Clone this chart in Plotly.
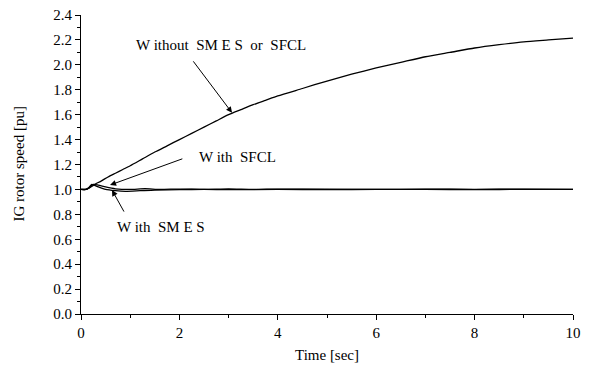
import plotly.graph_objects as go

# Time axis for the uncompensated case
t_without = [0, 0.1, 0.2, 0.3, 0.4, 0.55, 0.7, 0.85, 1.0, 1.25, 1.5, 1.75, 2.0, 2.25,
             2.5, 2.75, 3.0, 3.25, 3.5, 3.75, 4.0, 4.5, 5.0, 5.5, 6.0, 6.5, 7.0,
             7.5, 8.0, 8.5, 9.0, 9.5, 10.0]
v_without = [1.0, 1.0, 1.02, 1.045, 1.065, 1.10, 1.13, 1.16, 1.19, 1.245, 1.30, 1.35,
             1.40, 1.45, 1.50, 1.55, 1.60, 1.64, 1.68, 1.715, 1.75, 1.81, 1.87,
             1.925, 1.975, 2.02, 2.065, 2.10, 2.135, 2.162, 2.185, 2.20, 2.215]

t_sfcl = [0, 0.1, 0.15, 0.25, 0.35, 0.5, 0.7, 1.0, 1.3, 1.6, 2.0, 2.5, 3.0, 3.5,
          4.0, 5.0, 6.0, 7.0, 8.0, 9.0, 10.0]
v_sfcl = [1.0, 1.0, 1.01, 1.04, 1.035, 1.02, 1.005, 1.0, 1.006, 1.0, 1.003, 1.0,
          1.004, 1.0, 1.003, 1.002, 1.0, 1.002, 1.001, 1.002, 1.001]

t_smes = [0, 0.1, 0.15, 0.22, 0.35, 0.5, 0.7, 0.9, 1.2, 1.5, 2.0, 2.5, 3.0, 4.0,
          5.0, 6.0, 7.0, 8.0, 9.0, 10.0]
v_smes = [1.0, 1.0, 1.01, 1.04, 1.02, 1.0, 0.99, 0.985, 0.99, 0.995, 0.998, 1.0,
          0.998, 1.0, 0.999, 1.0, 1.0, 0.999, 1.0, 1.0]

x_ticks = [0, 2, 4, 6, 8, 10]
y_ticks = [0.0, 0.2, 0.4, 0.6, 0.8, 1.0, 1.2, 1.4, 1.6, 1.8, 2.0, 2.2, 2.4]

FONT = "Liberation Serif, Times New Roman, serif"

fig = go.Figure()
for tt, vv in [(t_without, v_without), (t_sfcl, v_sfcl), (t_smes, v_smes)]:
    fig.add_trace(go.Scatter(x=tt, y=vv, mode="lines",
                             line=dict(color="black", width=1.3, shape="spline", smoothing=0.6),
                             showlegend=False, hoverinfo="skip"))

def arrow(tx, ty, hx, hy):
    fig.add_annotation(x=hx, y=hy, ax=tx, ay=ty, xref="x", yref="y",
                       axref="x", ayref="y", text="", showarrow=True,
                       arrowhead=2, arrowsize=1.2, arrowwidth=1, arrowcolor="black")

arrow(2.26, 2.04, 3.07, 1.615)
arrow(2.09, 1.25, 0.59, 1.035)
arrow(0.89, 0.81, 0.63, 0.995)

def label(x, y, text):
    fig.add_annotation(x=x, y=y, xref="x", yref="y", text=text, showarrow=False,
                       font=dict(family=FONT, size=15, color="black"))

label(2.85, 2.16, "W ithout  SM E S  or  SFCL")
label(3.19, 1.26, "W ith  SFCL")
label(1.63, 0.70, "W ith  SM E S")

# axis titles as paper annotations
fig.add_annotation(x=-63 / 492, y=0.5, xref="paper", yref="paper", text="IG rotor speed [pu]",
                   showarrow=False, textangle=-90, xanchor="center",
                   font=dict(family=FONT, size=15, color="black"))
fig.add_annotation(x=0.5, y=-41 / 299, xref="paper", yref="paper", text="Time [sec]",
                   showarrow=False, yanchor="middle",
                   font=dict(family=FONT, size=15, color="black"))

axis_common = dict(showline=True, linecolor="black", linewidth=1, ticks="outside",
                   ticklen=5, tickcolor="black", showgrid=False, zeroline=False,
                   automargin=False, ticklabeloverflow="allow",
                   tickfont=dict(family=FONT, size=15, color="black"))
fig.update_xaxes(range=[0, 10], tickvals=x_ticks, ticktext=[str(v) for v in x_ticks],
                 minor=dict(dtick=1, ticks="outside", ticklen=3, tickcolor="black"),
                 **axis_common)
fig.update_yaxes(range=[0, 2.4], tickvals=y_ticks, ticktext=[f"{v:.1f}" for v in y_ticks],
                 minor=dict(dtick=0.1, ticks="outside", ticklen=3, tickcolor="black"),
                 **axis_common)

# page body has an 8px default margin, so the figure is offset by (8, 8)
fig.update_layout(width=585, height=365, margin=dict(l=73, r=20, t=7, b=59),
                  font=dict(family=FONT, color="black"),
                  plot_bgcolor="white", paper_bgcolor="white")

fig.write_html("out.html")
